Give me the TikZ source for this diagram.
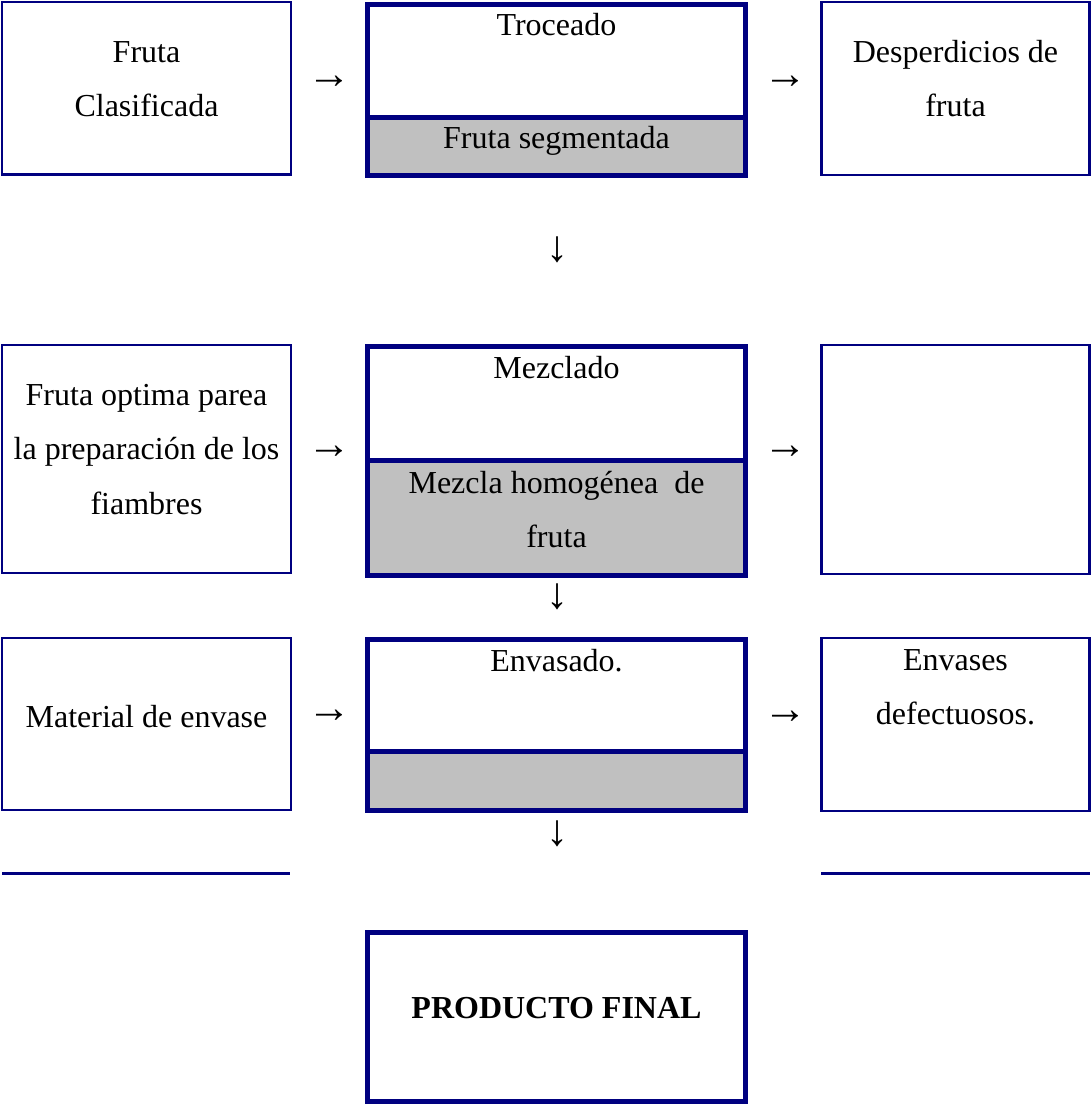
\documentclass[tikz,border=0pt]{standalone}
\usepackage{fontspec}
\setmainfont{Liberation Serif}
\begin{document}
\begin{tikzpicture}[x=1pt,y=-1pt,
  thinbox/.style={draw=navyblue,line width=2.5pt},
  thickbox/.style={draw=navyblue,line width=5pt},
  band/.style={fill=bandgray},
  txt/.style={anchor=base,inner sep=0pt,font=\fontsize{32}{54.5}\selectfont},
  sym/.style={anchor=center,inner sep=0pt,font=\fontsize{44}{50}\selectfont}]
\definecolor{navyblue}{RGB}{0,0,128}
\definecolor{bandgray}{RGB}{192,192,192}
\useasboundingbox (0,0) rectangle (1091,1106);
\newcommand{\lines}[1]{\begin{tabular}[t]{@{}c@{}}#1\end{tabular}}

% row 1
\draw[thinbox] (2,2) rectangle (291,174.5);
\fill[band] (367.5,117.5) rectangle (745.5,175.5);
\draw[thickbox] (367.5,4) rectangle (745.5,175.5);
\draw[thickbox] (367.5,117.5) -- (745.5,117.5);
\draw[thinbox] (821.5,2) rectangle (1089.5,175);
\node[txt] (inA) at (146.5,62) {\lines{Fruta\\Clasificada}};
\node[txt] (procA) at (556.5,35) {Troceado};
\node[txt] (outA) at (556.5,148) {Fruta segmentada};
\node[txt] (wasteA) at (955.5,62) {\lines{Desperdicios de\\fruta}};
\node[sym] (arA1) at (329,82) {→};
\node[sym] (arA2) at (785,82) {→};
\node[sym] (dnA) at (557,250) {↓};

% row 2
\draw[thinbox] (2,345) rectangle (291,573);
\fill[band] (367.5,460.5) rectangle (745.5,575);
\draw[thickbox] (367.5,346) rectangle (745.5,575);
\draw[thickbox] (367.5,460.5) -- (745.5,460.5);
\draw[thinbox] (821.5,345) rectangle (1089.5,574);
\node[txt] (inB) at (146.5,405) {\lines{Fruta optima parea\\la preparación de los\\fiambres}};
\node[txt] (procB) at (556.5,378) {Mezclado};
\node[txt] (outB) at (556.5,493) {\lines{Mezcla homogénea\ \ de\\fruta}};
\node[sym] (arB1) at (329,452) {→};
\node[sym] (arB2) at (785,452) {→};
\node[sym] (dnB) at (557,597) {↓};

% row 3
\draw[thinbox] (2,638) rectangle (291,810);
\fill[band] (367.5,751) rectangle (745.5,810.5);
\draw[thickbox] (367.5,639) rectangle (745.5,810.5);
\draw[thickbox] (367.5,751) -- (745.5,751);
\draw[thinbox] (821.5,638) rectangle (1089.5,811);
\node[txt] (inC) at (146.5,727) {Material de envase};
\node[txt] (procC) at (556.5,671) {Envasado.};
\node[txt] (wasteC) at (955.5,670) {\lines{Envases\\defectuosos.}};
\node[sym] (arC1) at (329,716) {→};
\node[sym] (arC2) at (785,717) {→};
\node[sym] (dnC) at (557,834) {↓};

% separator rules
\draw[navyblue,line width=3pt] (2,873.5) -- (290,873.5);
\draw[navyblue,line width=3pt] (821,873.5) -- (1089.5,873.5);

% final product
\draw[thickbox] (367.5,932.5) rectangle (745.5,1101.5);
\node[txt] (final) at (556.5,1018) {\bfseries PRODUCTO FINAL};
\end{tikzpicture}
\end{document}
